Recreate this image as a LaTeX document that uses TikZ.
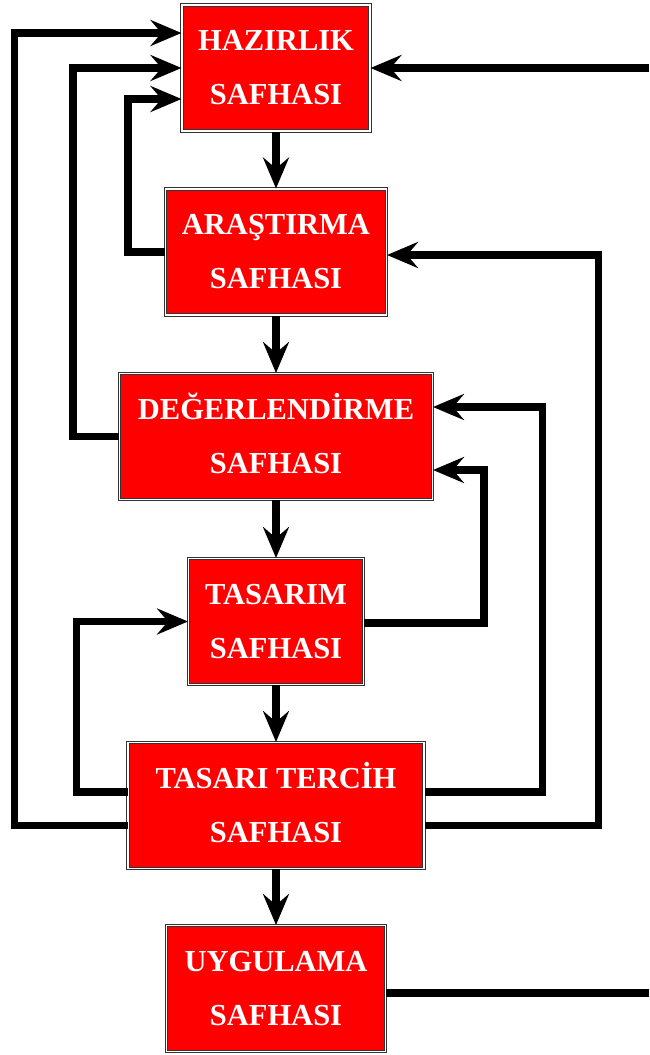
\documentclass[tikz,border=0pt]{standalone}
\usepackage{fontspec}
\setmainfont{Liberation Serif}
\usetikzlibrary{arrows.meta}
\tikzset{
  phase/.style={draw=black!80, double=white, double distance=1.3pt, line width=1pt,
    fill=red, text=white, font=\bfseries\fontsize{30.5}{54}\selectfont,
    align=center, inner sep=0pt, minimum height=126pt},
  conn/.style={line width=7.5pt, line join=miter, black},
  arr/.style={conn, -{Stealth[length=31pt, width=26pt, inset=11pt]}}
}
\begin{document}
\begin{tikzpicture}[x=1pt, y=-1pt]
\useasboundingbox (0,0) rectangle (649,1055);
\node[phase, minimum width=188pt] (haz) at (276,68) {HAZIRLIK\\SAFHASI};
\node[phase, minimum width=221pt] (ara) at (276,252) {ARA\smash{Ş}TIRMA\\SAFHASI};
\node[phase, minimum width=313pt] (deg) at (276,436.5) {DE\smash{Ğ}ERLEND\smash{İ}RME\\SAFHASI};
\node[phase, minimum width=175pt] (tas) at (276,621.5) {TASARIM\\SAFHASI};
\node[phase, minimum width=296pt] (tt) at (276,805.5) {TASARI TERC\smash{İ}H\\SAFHASI};
\node[phase, minimum width=219pt] (uyg) at (276,988.5) {UYGULAMA\\SAFHASI};
\path (649,0) coordinate (rx);
\coordinate (rt) at (haz.east -| rx);
\coordinate (rb) at ([yshift=-4.5pt]uyg.east -| rx);
% main flow
\draw[arr] (haz) -- (ara);
\draw[arr] (ara) -- (deg);
\draw[arr] (deg) -- (tas);
\draw[arr] (tas) -- (tt);
\draw[arr] (tt) -- (uyg);
% left feedback
\draw[arr] (ara.west) -- ++(-37,0) |- ([yshift=-31pt]haz.west);
\draw[arr] (deg.west) -- ++(-46,0) |- (haz.west);
\draw[arr] ([yshift=-20pt]tt.west) -- ++(-113,0) |- ([yshift=35pt]haz.west);
\draw[arr] ([yshift=13.5pt]tt.west) -- ++(-51,0) |- (tas.west);
% right feedback
\draw[arr] ([yshift=13.5pt]tt.east) -- ++(118,0) |- ([yshift=29.5pt]deg.east);
\draw[arr] ([yshift=-20pt]tt.east) -- ++(174,0) |- ([yshift=-3pt]ara.east);
\draw[arr] ([yshift=-1.5pt]tas.east) -- ++(120,0) |- ([yshift=-33.5pt]deg.east);
% external
\draw[arr] (rt) -- (haz.east);
\draw[conn] ([yshift=-4.5pt]uyg.east) -- (rb);
\end{tikzpicture}
\end{document}
